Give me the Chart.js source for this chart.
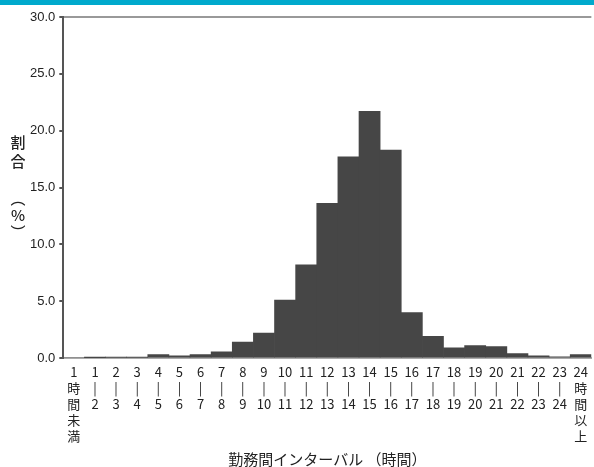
<!DOCTYPE html>
<html>
<head>
<meta charset="utf-8">
<script src="https://cdn.jsdelivr.net/npm/chart.js@4"></script>
<style>
  html, body { margin: 0; padding: 0; background: #fff; }
  #wrap { width: 594px; height: 467px; position: relative; }
</style>
</head>
<body>
<div id="wrap"><canvas id="chart" width="594" height="467"></canvas></div>
<script>
// categories (hours between shifts)
const categories = [
  ["1", "時", "間", "未", "満"],
  ["1", "|", "2"], ["2", "|", "3"], ["3", "|", "4"], ["4", "|", "5"],
  ["5", "|", "6"], ["6", "|", "7"], ["7", "|", "8"], ["8", "|", "9"],
  ["9", "|", "10"], ["10", "|", "11"], ["11", "|", "12"], ["12", "|", "13"],
  ["13", "|", "14"], ["14", "|", "15"], ["15", "|", "16"], ["16", "|", "17"],
  ["17", "|", "18"], ["18", "|", "19"], ["19", "|", "20"], ["20", "|", "21"],
  ["21", "|", "22"], ["22", "|", "23"], ["23", "|", "24"],
  ["24", "時", "間", "以", "上"]
];
// share (%)
const shares = [
  0.0, 0.02, 0.05, 0.05, 0.3, 0.2, 0.3, 0.55, 1.4, 2.2,
  5.1, 8.2, 13.6, 17.7, 21.7, 18.3, 4.0, 1.9, 0.9, 1.1,
  1.0, 0.4, 0.2, 0.1, 0.3
];
const yTitleChars = ["割", "合", "︵", "%", "︶"];
const xTitle = "勤務間インターバル （時間）";

const jpFont = "'Noto Sans CJK JP', 'Noto Sans', sans-serif";

// cyan strip at the top + vertical y-axis title
const decor = {
  id: "decor",
  beforeDraw(chart) {
    const ctx = chart.ctx;
    ctx.save();
    ctx.fillStyle = "#00a9cc";
    ctx.fillRect(0, 0, chart.width, 5);
    ctx.restore();
  },
  afterDraw(chart) {
    const ctx = chart.ctx;
    const ys = [142, 161, 198, 215, 232];
    ctx.save();
    ctx.fillStyle = "#222";
    ctx.font = "500 15px " + jpFont;
    ctx.textAlign = "center";
    ctx.textBaseline = "middle";
    yTitleChars.forEach((c, i) => ctx.fillText(c, 18, ys[i]));
    ctx.restore();
  }
};

new Chart(document.getElementById("chart"), {
  type: "bar",
  data: {
    labels: categories,
    datasets: [{
      data: shares,
      backgroundColor: "#464646",
      borderWidth: 0,
      barPercentage: 1,
      categoryPercentage: 1
    }]
  },
  options: {
    responsive: false,
    animation: false,
    layout: { padding: { left: 26, top: 17, right: 0, bottom: -4 } },
    plugins: { legend: { display: false }, tooltip: { enabled: false } },
    scales: {
      x: {
        grid: { display: false, drawTicks: false, tickLength: 0 },
        border: { display: true, color: "#aaa", width: 2 },
        ticks: {
          autoSkip: false,
          maxRotation: 0,
          minRotation: 0,
          color: "#222",
          padding: 6,
          font: { family: jpFont, size: 13, lineHeight: 1.23 }
        },
        title: {
          display: true,
          text: xTitle,
          color: "#222",
          padding: { top: 0, bottom: 3 },
          font: { family: jpFont, size: 15 }
        }
      },
      y: {
        min: 0,
        max: 30,
        ticks: {
          stepSize: 5,
          color: "#222",
          padding: 4,
          font: { family: "'Liberation Sans', Arial, sans-serif", size: 13 },
          callback: v => v.toFixed(1)
        },
        grid: {
          drawOnChartArea: true,
          color: c => (c.tick && c.tick.value === 30 ? "#999" : "rgba(0,0,0,0)"),
          tickColor: "#555",
          tickLength: 4,
          lineWidth: 2
        },
        border: { display: true, color: "#555", width: 2 }
      }
    }
  },
  plugins: [decor]
});
</script>
</body>
</html>
